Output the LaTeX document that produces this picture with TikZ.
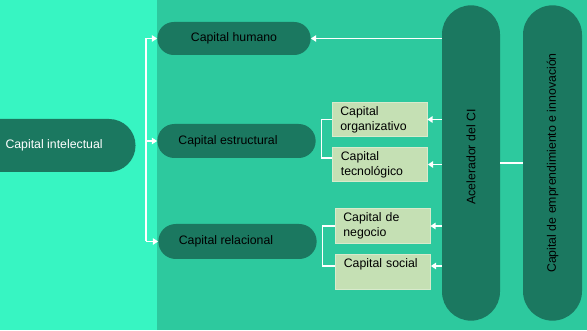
\documentclass[tikz,border=0pt]{standalone}
\usepackage{fontspec}
\setmainfont{Liberation Sans}
\usetikzlibrary{arrows.meta, positioning, shapes.misc}

\definecolor{bgleft}{HTML}{37F5C2}
\definecolor{bgright}{HTML}{2DC99E}
\definecolor{pilldark}{HTML}{1B7860}
\definecolor{boxlight}{HTML}{C5E0B4}
\definecolor{boxedge}{HTML}{D8EACC}

\begin{document}
\begin{tikzpicture}[
  font=\fontsize{10.5}{12.5}\selectfont,
  pill/.style={rounded rectangle, fill=pilldark, inner sep=2pt, minimum height=0.99cm},
  subbox/.style={rectangle, fill=boxlight, draw=boxedge, line width=0.6pt, text width=2.35cm,
    align=left, inner xsep=0.25cm, inner ysep=2pt, minimum height=1.03cm},
  link/.style={draw=white, line width=1.2pt},
  feed/.style={draw=white, line width=1.2pt, -{Triangle[length=4.5pt, width=5.5pt]}}
]
  % Background panels
  \useasboundingbox (0,0) rectangle (17.61,9.9);
  \fill[bgleft]  (0,0) rectangle (4.71,9.9);
  \fill[bgright] (4.71,0) rectangle (17.61,9.9);

  % Root (flat on the left edge)
  \node[pill, rounded rectangle left arc=none, minimum width=4.29cm, minimum height=1.59cm,
    text=white, anchor=west] (intel) at (-0.09,5.535) {Capital intelectual\hspace*{0.72cm}};

  % Main branches
  \node[pill, minimum width=4.74cm] (hum) at (7.02,8.745) {Capital humano};
  \node[pill, minimum width=4.89cm, minimum height=1.02cm] (est) at (7.095,5.67)
    {Capital estructural\hspace*{0.51cm}};
  \node[pill, minimum width=4.89cm, minimum height=1.05cm] (rel) at (7.125,2.655)
    {Capital relacional\hspace*{0.69cm}};

  % Sub-capitals
  \node[subbox] (org) at (11.385,6.315) {Capital\\organizativo};
  \node[subbox] (tec) at (11.4,4.965) {Capital\\tecnológico};
  \node[subbox] (neg) at (11.475,3.12) {Capital de\\negocio};
  \node[subbox, text depth=14.7pt] (soc) at (11.49,1.74) {Capital social};

  % Vertical pillars
  \node[pill, rotate=90, minimum width=9.6cm, minimum height=1.74cm] (acel) at (14.13,5.01)
    {\hspace*{0.36cm}Acelerador del CI};
  \node[pill, rotate=90, minimum width=9.6cm, minimum height=1.77cm] (emp) at (16.575,5.01)
    {Capital de emprendimiento e innovación};

  % Split towards the three branches
  \coordinate (split) at (4.38,5.535);
  \draw[link] (hum.west -| split) -- (rel.west -| split);
  \draw[feed] (hum.west -| split) -- (hum.west);
  \draw[feed] (est.west -| split) -- (est.west);
  \draw[feed] (rel.west -| split) -- (rel.west);

  % Brackets of the sub-capitals
  \draw[link] (org.west) -- ++(-0.3,0) |- ([yshift=0.2cm]tec.west);
  \draw[link] (neg.west) -- ++(-0.36,0) |- ([yshift=0.18cm]soc.west);

  % Feedback from the accelerator
  \draw[feed] (hum.east -| acel.north) -- (hum.east);
  \draw[feed] (org.east -| acel.north) -- (org.east);
  \draw[feed] (tec.east -| acel.north) -- (tec.east);
  \draw[feed] (neg.east -| acel.north) -- (neg.east);
  \draw[feed] ([yshift=0.18cm]soc.east -| acel.north) -- ([yshift=0.18cm]soc.east);
  \draw[link] (acel.south) -- (emp.north);
\end{tikzpicture}
\end{document}
